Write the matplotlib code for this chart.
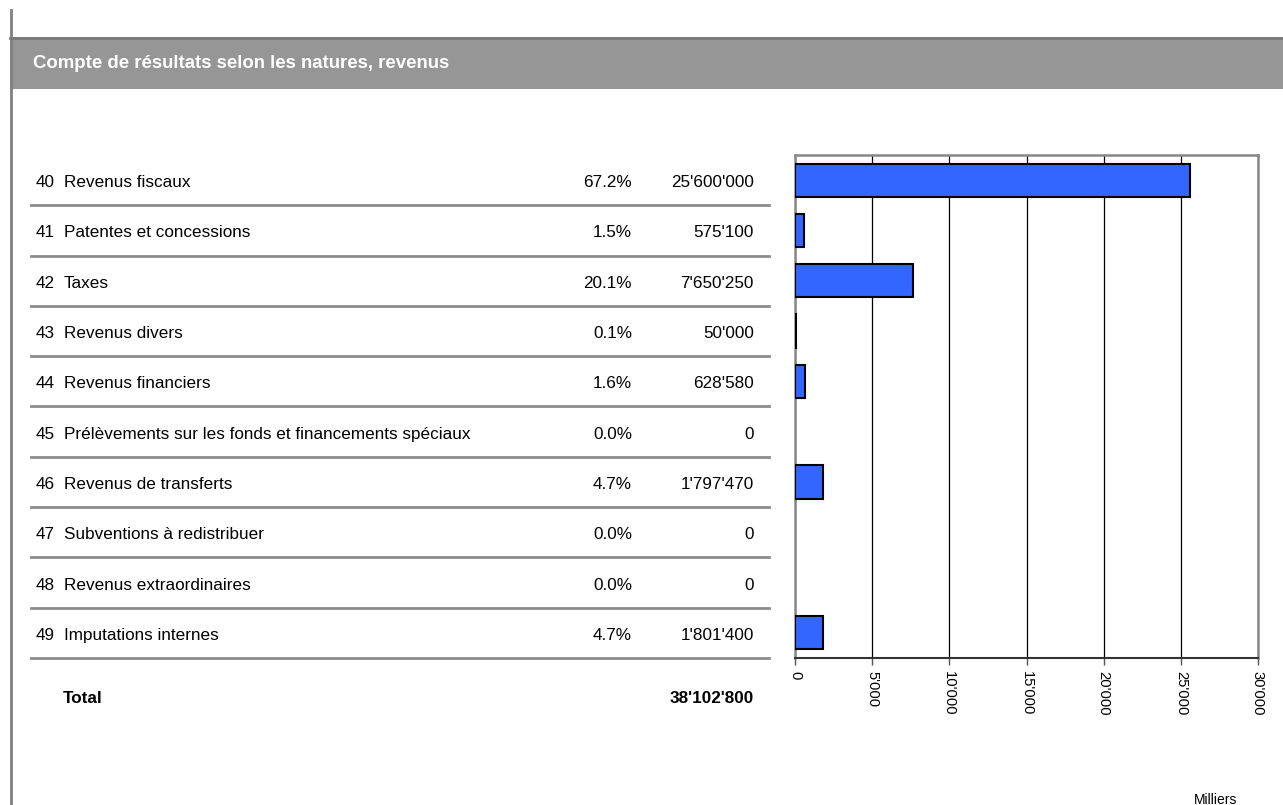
import matplotlib
matplotlib.use("Agg")
import matplotlib.pyplot as plt
from matplotlib.transforms import blended_transform_factory
from matplotlib.patches import Rectangle
from matplotlib.lines import Line2D
from matplotlib.ticker import FuncFormatter

plt.rcParams['font.family'] = ['Liberation Sans', 'DejaVu Sans']

codes = ["40", "41", "42", "43", "44", "45", "46", "47", "48", "49"]
names = ["Revenus fiscaux", "Patentes et concessions", "Taxes", "Revenus divers",
         "Revenus financiers", "Prélèvements sur les fonds et financements spéciaux",
         "Revenus de transferts", "Subventions à redistribuer", "Revenus extraordinaires",
         "Imputations internes"]
percents = ["67.2%", "1.5%", "20.1%", "0.1%", "1.6%", "0.0%", "4.7%", "0.0%", "0.0%", "4.7%"]
amounts = [25600000, 575100, 7650250, 50000, 628580, 0, 1797470, 0, 0, 1801400]
total_label = "Total"
total_amount = 38102800
title = "Compte de résultats selon les natures, revenus"
unit_label = "Milliers"
xticks = [0, 5000, 10000, 15000, 20000, 25000, 30000]

W, H = 1283, 805
fig = plt.figure(figsize=(W / 100, H / 100), dpi=100)

def fx(px):
    return px / W

def fy(py):
    return 1 - py / H

def fmt(v):
    return f"{int(round(v)):,}".replace(",", "'")

FS = 12.3

# header band
fig.patches.append(Rectangle((fx(10), fy(89)), 1 - fx(10), fy(37) - fy(89),
                             transform=fig.transFigure, facecolor="#969696",
                             edgecolor="none", zorder=0))
fig.lines.append(Line2D([fx(10), 1], [fy(38), fy(38)], transform=fig.transFigure,
                        color="#7a7a7a", lw=2))
fig.lines.append(Line2D([fx(11), fx(11)], [0, fy(10)], transform=fig.transFigure,
                        color="#808080", lw=2))
fig.text(fx(33), fy(68), title, color="white", fontsize=13.4, fontweight="bold",
         va="baseline", ha="left")

# chart axes
ax = fig.add_axes([fx(795), fy(658), fx(1258) - fx(795), fy(155) - fy(658)])
n = len(codes)
ypos = list(range(n))
vals_k = [a / 1000 for a in amounts]
edges = ["black" if v > 0 else "none" for v in vals_k]
ax.barh(ypos, vals_k, height=0.66, color="#3366FF", edgecolor=edges, linewidth=1.5, zorder=3)
ax.set_ylim(n - 0.5, -0.5)
ax.set_xlim(0, 30000)
ax.set_xticks(xticks)
ax.xaxis.set_major_formatter(FuncFormatter(lambda v, p: fmt(v)))
ax.tick_params(axis="x", direction="out", length=5, width=1, color="#555555",
               labelsize=10.6, labelrotation=-90, pad=4)
for lbl in ax.get_xticklabels():
    lbl.set_va("top")
    lbl.set_ha("center")
ax.set_yticks([])
ax.grid(axis="x", color="black", lw=0.9, zorder=1)
for s in ["top", "right", "left"]:
    ax.spines[s].set_color("#888888")
    ax.spines[s].set_linewidth(1.8)
ax.spines["bottom"].set_color("#333333")
ax.spines["bottom"].set_linewidth(1.5)

fig.text(fx(1194), fy(800), unit_label, fontsize=10, ha="left", va="center")

# table
tr = blended_transform_factory(fig.transFigure, ax.transData)
off = 0.14
for i in range(n):
    ax.text(fx(36), i + off, codes[i], transform=tr, fontsize=FS, va="baseline", ha="left", clip_on=False)
    ax.text(fx(64), i + off, names[i], transform=tr, fontsize=FS, va="baseline", ha="left", clip_on=False)
    ax.text(fx(632), i + off, percents[i], transform=tr, fontsize=FS, va="baseline", ha="right", clip_on=False)
    ax.text(fx(754), i + off, fmt(amounts[i]), transform=tr, fontsize=FS, va="baseline", ha="right", clip_on=False)
    fig.lines.append(Line2D([fx(31), fx(769)], [i + 0.5, i + 0.5], transform=tr,
                            color="#8c8c8c", lw=2))
ty = n - 0.5 + 0.89
ax.text(fx(63), ty, total_label, transform=tr, fontsize=FS, fontweight="bold",
        va="baseline", ha="left", clip_on=False)
ax.text(fx(754), ty, fmt(total_amount), transform=tr, fontsize=FS,
        fontweight="bold", va="baseline", ha="right", clip_on=False)

fig.savefig("out.png", dpi=100)
